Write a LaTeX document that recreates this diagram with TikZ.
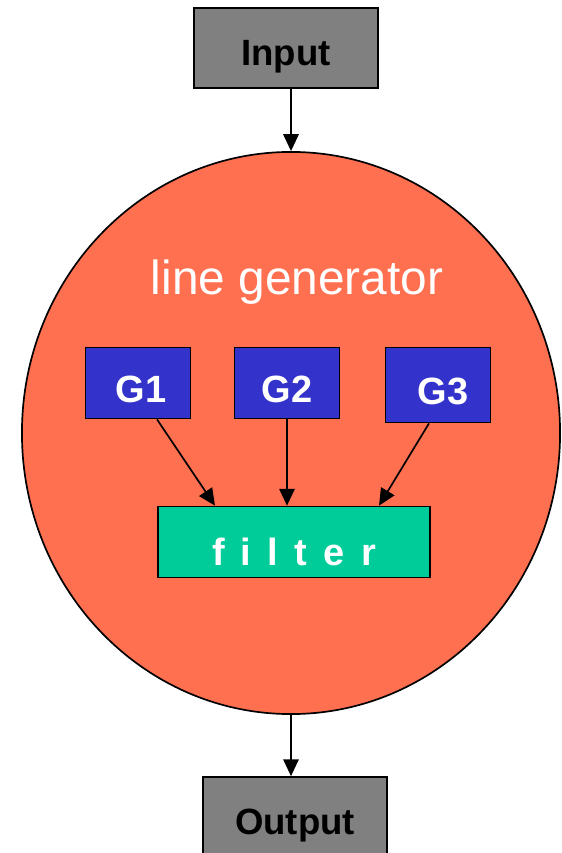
\documentclass[tikz,border=0pt]{standalone}
\usepackage{fontspec}
\setmainfont{Liberation Sans}
\usepackage{tikz}
\usetikzlibrary{arrows.meta,shapes}
\definecolor{boxgray}{HTML}{808080}
\definecolor{gencolor}{HTML}{FF7050}
\definecolor{gblue}{HTML}{3333CC}
\definecolor{fgreen}{HTML}{00CC99}
\newcommand{\gap}{\hspace{0.43em}}
\tikzset{
  io/.style={draw=black, line width=1.2pt, fill=boxgray, minimum width=4.6cm,
    minimum height=2cm, text height=25pt, text depth=0pt,
    font=\fontsize{26}{30}\selectfont\bfseries},
  gbox/.style={draw=black, line width=1.2pt, fill=gblue, text=white, minimum width=2.625cm,
    minimum height=1.775cm, text height=28pt, text depth=0pt,
    font=\fontsize{27}{30}\selectfont\bfseries},
  arr/.style={-{Triangle[length=12pt,width=11pt]}, line width=1.2pt}
}

\begin{document}
\begin{tikzpicture}[x=0.025cm, y=-0.025cm]
\clip (0,0) rectangle (561,853);
\useasboundingbox (0,0) rectangle (561,853);

\node[ellipse, draw=black, line width=1.2pt, fill=gencolor, minimum width=13.45cm,
  minimum height=14.05cm] (gen) at (291,433) {};
\node[text=white, font=\fontsize{34}{40}\selectfont] (title) at (297,282) {line generator};

\node[io] (input) at (286,48) {Input};
\node[io] (output) at (295,817) {Output};

\node[gbox] (g1) at (138,383) {\,G1};
\node[gbox] (g2) at (287,383) {G2};
\node[gbox, minimum height=1.875cm] (g3) at (438,385) {\;G3};

\node[draw=black, line width=1.2pt, fill=fgreen, text=white, minimum width=6.8cm,
  minimum height=1.775cm, text height=33pt, text depth=0pt,
  font=\fontsize{27}{30}\selectfont\bfseries]
  (filter) at (294,542) {f\gap i\gap l\gap t\gap e\gap r};

\draw[arr] (input.south -| gen.north) -- (gen.north);
\draw[arr] (gen.south) -- (gen.south |- output.north);

\draw[arr] ([xshift=0.475cm]g1.south) -- ([xshift=-1.975cm]filter.north);
\draw[arr] (g2.south) -- (g2.south |- filter.north);
\draw[arr] ([xshift=-0.225cm]g3.south) -- ([xshift=2.125cm]filter.north);
\end{tikzpicture}
\end{document}
